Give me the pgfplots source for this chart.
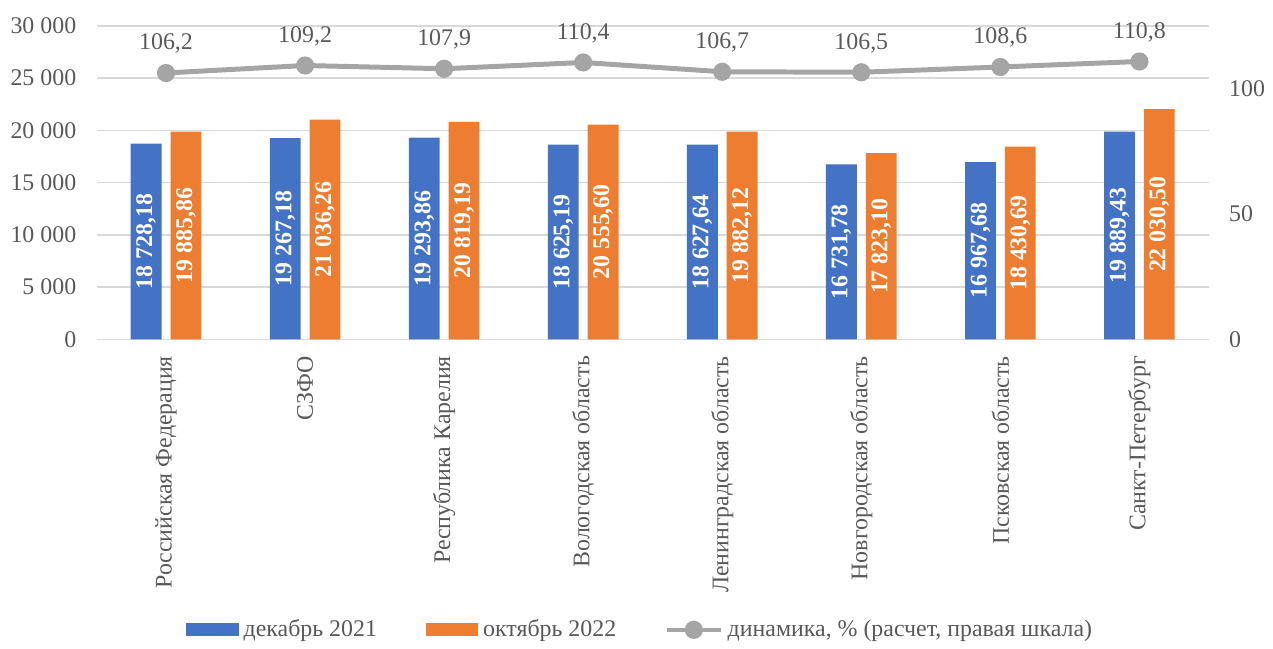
\documentclass[border=0pt]{standalone}
\usepackage{fontspec}
\setmainfont{Liberation Serif}
\usepackage{pgfplots}
\usepackage{pgfplotstable}
\pgfplotsset{compat=1.18}

\definecolor{cdec}{HTML}{4472C4}
\definecolor{coct}{HTML}{ED7D31}
\definecolor{cline}{HTML}{A5A5A5}
\definecolor{ctext}{HTML}{595959}
\definecolor{cgrid}{HTML}{D9D9D9}

\pgfplotstableread{
x dec      oct      dyn
0 18728.18 19885.86 106.2
1 19267.18 21036.26 109.2
2 19293.86 20819.19 107.9
3 18625.19 20555.60 110.4
4 18627.64 19882.12 106.7
5 16731.78 17823.10 106.5
6 16967.68 18430.69 108.6
7 19889.43 22030.50 110.8
}\data

\begin{document}
\fontsize{12}{14}\selectfont
\begin{tikzpicture}
\pgfplotsset{
  every axis/.append style={
    width=559pt, height=157.5pt, scale only axis,
    xmin=-0.5, xmax=7.5, ymin=0,
    tick style={draw=none},
    axis line style={draw=none},
    ticklabel style={text=ctext},
    /pgf/number format/assume math mode=true,
  }
}
\begin{axis}[
  ymax=30000, ytick={0,5000,...,30000},
  ymajorgrids, grid style={cgrid, line width=0.75pt},
  scaled y ticks=false,
  yticklabel style={xshift=-6pt, /pgf/number format/.cd, fixed, 1000 sep={\ }},
  xtick={0,...,7},
  xticklabels={Российская Федерация, СЗФО, Республика Карелия, Вологодская область, Ленинградская область, Новгородская область, Псковская область, Санкт-Петербург},
  xticklabel style={rotate=90, anchor=east},
  ybar=4.5pt, bar width=15.5pt,
  visualization depends on=rawy \as \rawy,
  nodes near coords={\pgfmathprintnumber[fixed, fixed zerofill, precision=2, use comma, 1000 sep={\ }]{\pgfplotspointmeta}},
  every node near coord/.append style={shift={(axis direction cs:0,-\rawy/2)}, anchor=center, rotate=90, text=white, font=\bfseries},
]
\addplot[fill=cdec, draw=none] table[x=x, y=dec] {\data};
\addplot[fill=coct, draw=none] table[x=x, y=oct] {\data};
\end{axis}
\begin{axis}[
  ymax=125, ytick={0,50,100},
  axis x line=none, axis y line*=right,
  xtick=\empty,
  yticklabel style={xshift=6pt},
  legend style={at={(0.49,-0.927)}, anchor=center, draw=none, legend columns=3,
    text=ctext, nodes={inner xsep=2.5pt},
    /tikz/every even column/.append style={column sep=22pt}},
  legend cell align=left,
]
\addlegendimage{legend image code/.code={\fill[cdec] (0pt,-3pt) rectangle (26pt,3pt);}}
\addlegendentry{декабрь 2021}
\addlegendimage{legend image code/.code={\fill[coct] (0pt,-3pt) rectangle (26pt,3pt);}}
\addlegendentry{октябрь 2022}
\addplot[color=cline, line width=2.5pt, mark=*, mark size=3.3pt,
  mark options={fill=cline, draw=cline},
  legend image code/.code={\draw[cline, line width=2pt] (0pt,0pt) -- (27pt,0pt);
    \fill[cline] (13.5pt,0pt) circle (3.3pt);},
  nodes near coords={\pgfmathprintnumber[fixed, fixed zerofill, precision=1, use comma]{\pgfplotspointmeta}},
  every node near coord/.append style={text=ctext, yshift=4.5pt}] table[x=x, y=dyn] {\data};
\addlegendentry{динамика, \% (расчет, правая шкала)}
\end{axis}
\path (-48.5pt,-152.5pt) rectangle (588pt,170.5pt);
\end{tikzpicture}
\end{document}
